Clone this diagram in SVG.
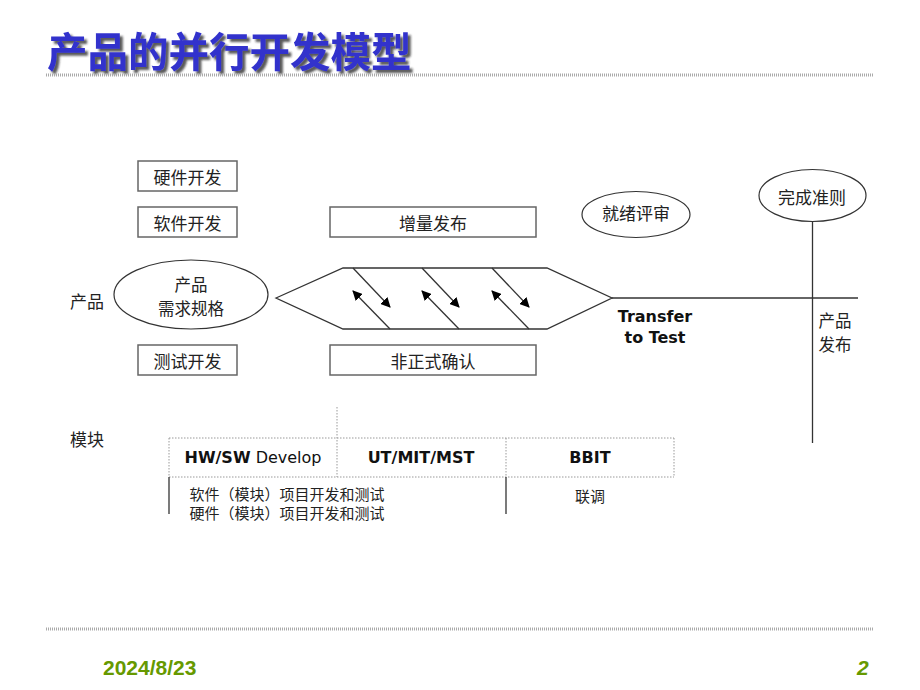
<svg xmlns="http://www.w3.org/2000/svg" width="920" height="690" viewBox="0 0 920 690">
<defs>
<marker id="ah" viewBox="0 0 10 10" refX="9" refY="5" markerWidth="10" markerHeight="10" markerUnits="userSpaceOnUse" orient="auto">
<path d="M0,0 L10,5 L0,10 z" fill="#000"/>
</marker>
<filter id="sh" x="-5%" y="-20%" width="115%" height="150%">
<feDropShadow dx="3" dy="3" stdDeviation="0.8" flood-color="#222" flood-opacity="0.75"/>
</filter>
</defs>
<style>
.cn{font-family:"Noto Sans CJK SC","Noto Sans",sans-serif;font-size:17px;fill:#222;text-anchor:middle;dominant-baseline:central}
.sm{font-size:15px}
.two{font-size:16.5px}
.box{fill:#fff;stroke:#666;stroke-width:1.5}
.ell{fill:#fff;stroke:#333;stroke-width:1.2}
.ln{stroke:#333;stroke-width:1.3;fill:none}
.dot{stroke:#999;stroke-width:1;stroke-dasharray:1.5,1.5;fill:none}
.en{font-family:"DejaVu Sans",Verdana,sans-serif;font-size:16px;fill:#111;text-anchor:middle;dominant-baseline:central}
.b{font-weight:bold}
.rule{stroke:#aaa;stroke-width:3;stroke-dasharray:1,1}
.ft{font-family:"Liberation Sans",Arial,sans-serif;font-weight:bold;font-size:21px;fill:#669900}
</style>
<rect width="920" height="690" fill="#fff"/>
<g id="title">
<text x="47" y="67" font-family="'Noto Sans CJK SC',sans-serif" font-weight="bold" font-size="40.5" fill="#3333cc" filter="url(#sh)">产品的并行开发模型</text>
<line x1="46" y1="75" x2="874" y2="75" class="rule"/>
</g>
<g id="connectors">
<line class="ln" x1="612" y1="298" x2="858" y2="298"/>
<line class="ln" x1="812.5" y1="221.5" x2="812.5" y2="443"/>
<line class="ln" x1="353" y1="268" x2="390" y2="307" marker-end="url(#ah)"/>
<line class="ln" x1="422" y1="268" x2="459" y2="307" marker-end="url(#ah)"/>
<line class="ln" x1="492" y1="268" x2="529" y2="307" marker-end="url(#ah)"/>
<line class="ln" x1="390" y1="329" x2="353" y2="291" marker-end="url(#ah)"/>
<line class="ln" x1="459" y1="329" x2="422" y2="291" marker-end="url(#ah)"/>
<line class="ln" x1="529" y1="329" x2="492" y2="291" marker-end="url(#ah)"/>
</g>
<g id="hw-dev"><rect class="box" x="138" y="161" width="99" height="30"/><text class="cn" x="187.5" y="176">硬件开发</text></g>
<g id="sw-dev"><rect class="box" x="138" y="207" width="99" height="30"/><text class="cn" x="187.5" y="222">软件开发</text></g>
<g id="test-dev"><rect class="box" x="138" y="345" width="99" height="30"/><text class="cn" x="187.5" y="360">测试开发</text></g>
<g id="incr-release"><rect class="box" x="330" y="207" width="206" height="30"/><text class="cn" x="433" y="222">增量发布</text></g>
<g id="informal-confirm"><rect class="box" x="330" y="345" width="206" height="30"/><text class="cn" x="433" y="360">非正式确认</text></g>
<g id="product-label"><text class="cn" x="87" y="300">产品</text></g>
<g id="product-spec"><ellipse class="ell" cx="191" cy="294.5" rx="77" ry="34.5"/><text class="cn two" x="191" y="284">产品<tspan x="191" dy="24">需求规格</tspan></text></g>
<g id="pipeline"><polygon class="ln" points="276,298 343,268 547,268 612,298 547,329 343,329"/></g>
<g id="ready-review"><ellipse class="ell" cx="636" cy="214.5" rx="54" ry="23"/><text class="cn" x="636" y="212">就绪评审</text></g>
<g id="done-criteria"><ellipse class="ell" cx="812.5" cy="195.5" rx="53.5" ry="26"/><text class="cn" x="812" y="196">完成准则</text></g>
<g id="transfer"><text class="en b" x="655" y="316">Transfer<tspan x="655" dy="21">to Test</tspan></text></g>
<g id="release"><text class="cn two" x="835" y="320">产品<tspan x="835" dy="24">发布</tspan></text></g>
<g id="module-label"><text class="cn" x="87" y="438">模块</text></g>
<g id="module-table">
<line class="dot" x1="169" y1="438" x2="674" y2="438"/>
<line class="dot" x1="169" y1="477" x2="674" y2="477"/>
<line class="dot" x1="169" y1="438" x2="169" y2="477"/>
<line class="dot" x1="337" y1="407" x2="337" y2="477"/>
<line class="dot" x1="506" y1="438" x2="506" y2="477"/>
<line class="dot" x1="674" y1="438" x2="674" y2="477"/>
<line class="ln" x1="169" y1="477" x2="169" y2="514"/>
<line class="ln" x1="506" y1="477" x2="506" y2="514"/>
<text class="en" x="253" y="457"><tspan class="b">HW/SW</tspan> Develop</text>
<text class="en b" x="421" y="457">UT/MIT/MST</text>
<text class="en b" x="590" y="457">BBIT</text>
<text class="cn sm" x="287" y="493">软件（模块）项目开发和测试<tspan x="287" dy="19">硬件（模块）项目开发和测试</tspan></text>
<text class="cn sm" x="590" y="495">联调</text>
</g>
<g id="footer">
<line x1="46" y1="629" x2="874" y2="629" class="rule"/>
<text class="ft" x="103" y="675">2024/8/23</text>
<text class="ft" x="857" y="675" font-style="italic">2</text>
</g>
</svg>
